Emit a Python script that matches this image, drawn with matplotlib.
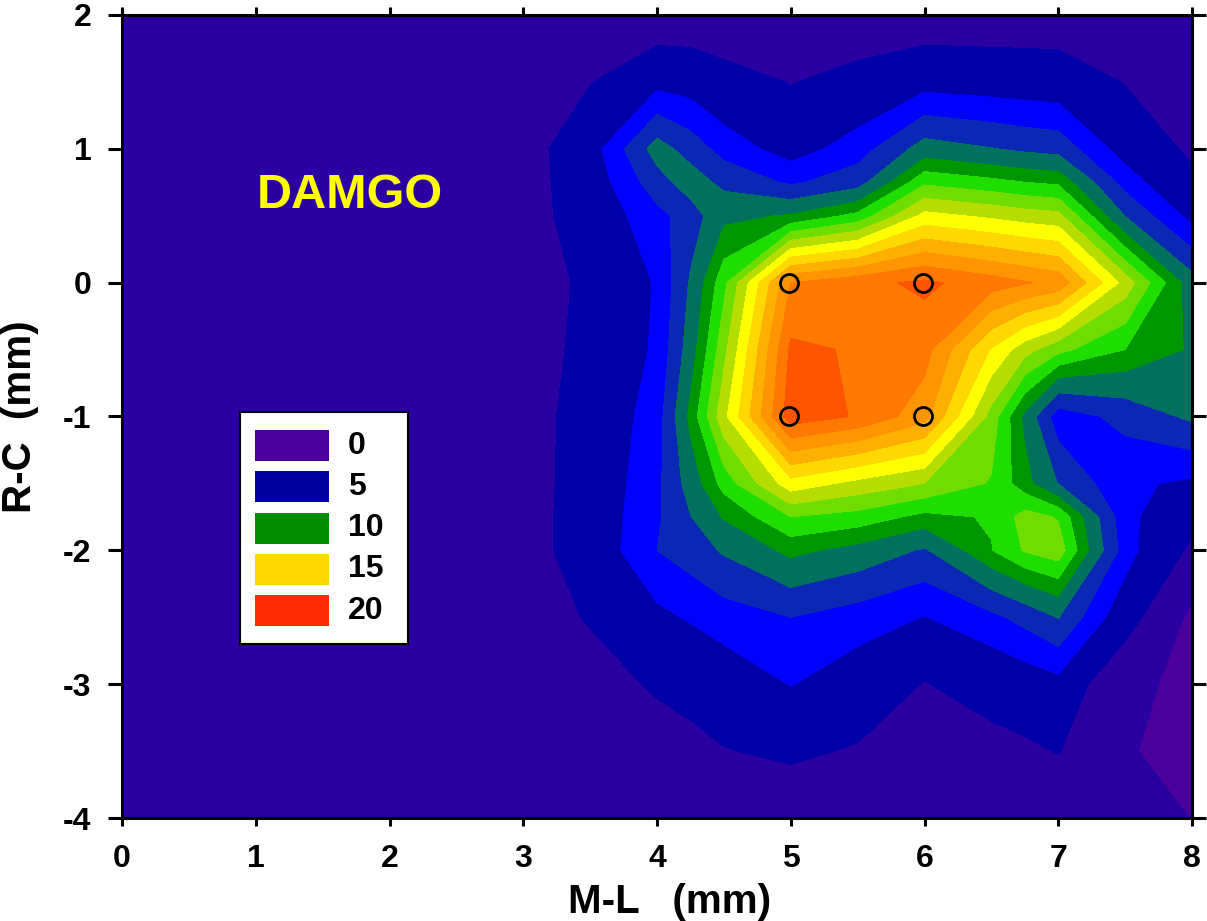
import numpy as np
from matplotlib import pyplot as plt
from matplotlib.patches import Rectangle

plt.rcParams['font.family'] = ['Liberation Sans', 'DejaVu Sans']
plt.rcParams['font.weight'] = 'bold'
plt.rcParams['axes.unicode_minus'] = False

# grille de mesure (mm)
ml = [0, 1, 2, 3, 3.5, 4, 4.25, 4.5, 5, 5.5, 6, 6.5, 6.75, 7, 7.5, 8]
rc = [2, 1.5, 1, 0.75, 0.5, 0, -0.5, -1, -1.5, -1.75, -2, -2.5, -3, -3.5, -4]

# une ligne par valeur de R-C
row_p20 = [2, 2, 2, 2, 2.5, 2.5, 2.5, 2.2, 2, 2.3, 2.6, 2.6, 2.6, 2.6, 2.2, 2]
row_p15 = [2, 2, 2, 2.5, 3.9, 5.8, 5.6, 4.9, 3.9, 4.8, 5.7, 5.5, 5.4, 5.3, 3.9, 2.8]
row_p10 = [2, 2, 2, 3, 5.6, 9.3, 8.2, 7, 5.6, 6.9, 9.3, 8.8, 8.5, 8.3, 5.6, 3.6]
row_p07 = [2, 2, 2, 3, 5.4, 8.2, 9.4, 8.4, 7.3, 8.2, 11.8, 11.3, 11, 10.8, 7, 4.5]
row_p05 = [2, 2, 2, 3, 5.2, 7.1, 8.1, 9.7, 10.1, 11.3, 14.3, 13.8, 13.5, 13.3, 8.7, 5.8]
row_000 = [2, 2, 2, 3, 4.4, 6.4, 8.9, 11.7, 18, 18.7, 19.2, 18.5, 18.1, 17.7, 13.6, 9.3]
row_m05 = [2, 2, 2, 3, 4.6, 6.5, 9.4, 12.7, 19.2, 18.9, 18.4, 14.9, 13.4, 12.3, 11, 9.85]
row_m10 = [2, 2, 2, 3, 5, 6.9, 10.3, 13.7, 19.6, 18.9, 17.4, 12.6, 9.7, 6.8, 7.9, 9]
row_m15 = [2, 2, 2, 3, 5.1, 7.2, 9.3, 11.4, 14.6, 13.7, 13, 11.9, 10.4, 8.7, 6.5, 6]
row_m17 = [2, 2, 2, 3, 5.2, 7.3, 8.7, 10.1, 12, 11.6, 10.7, 11.1, 12.4, 11.9, 6.7, 4.6]
row_m20 = [2, 2, 2, 3, 5.2, 7.5, 8.1, 8.9, 10.3, 9.6, 8.6, 10.95, 12.1, 12.6, 6.9, 3.6]
row_m25 = [2, 2, 2, 2.8, 4.2, 5.9, 6.4, 6.9, 7.5, 6.9, 6.2, 7.2, 7.9, 8.8, 5.2, 0.4]
row_m30 = [2, 2, 2, 2.4, 3, 4.3, 4.7, 5.3, 6.3, 5.4, 3.9, 5, 5.4, 5.8, 1.8, 0.2]
row_m35 = [2, 2, 2, 2, 2.2, 2.9, 3.4, 3.9, 4.4, 3.8, 2.6, 3.2, 3.6, 4.1, 1.2, 0.2]
row_m40 = [2, 2, 2, 2, 2, 2, 2, 2, 2.4, 2, 2, 2, 2, 2, 2, 0.95]

niveaux = [0, 1, 4, 6.25, 7.5, 8.75, 10, 11, 12, 13, 14, 15, 16, 17, 18, 19, 20, 21]
couleurs = ['#4B009B', '#2A00A3', '#0000A8', '#0000FF', '#0A28B4', '#00705F',
            '#009600', '#20DD00', '#70DD00', '#B5DD00', '#FFFF00', '#FFD800',
            '#FFAF00', '#FF9500', '#FF7800', '#FF5500', '#FF2A00']

# points d'injection
pts_x = [4.99, 5.99, 4.99, 5.99]
pts_y = [0, 0, -1, -1]

legende_val = ['0', '5', '10', '15', '20']
legende_coul = ['#4B009B', '#0000A0', '#008C00', '#FFD800', '#FF2A00']

z = np.array([row_p20, row_p15, row_p10, row_p07, row_p05, row_000, row_m05,
              row_m10, row_m15, row_m17, row_m20, row_m25, row_m30, row_m35, row_m40])

fig = plt.figure(figsize=(12.07, 9.21), dpi=100)
ax = fig.add_axes([122 / 1207, 1 - 818 / 921, 1070 / 1207, 803 / 921])

ax.contourf(ml, rc, z, levels=niveaux, colors=couleurs)
ax.plot(pts_x, pts_y, 'o', ms=13, mfc='none', mec='black', mew=2)

ax.set_xlim(0, 8)
ax.set_ylim(-4, 2)
ax.set_xticks(range(0, 9))
ax.set_yticks(range(-4, 3))
ax.tick_params(axis='x', which='both', top=True, direction='out', length=6, width=2.2, labelsize=23, pad=13)
ax.tick_params(axis='y', which='both', right=True, direction='out', length=10, width=2.2, labelsize=23, pad=12)
for s in ax.spines.values():
    s.set_linewidth(2.2)
    s.set_zorder(10)

ax.set_xlabel('M-L   (mm)', fontsize=29, fontweight='bold')
ax.xaxis.set_label_coords(0.512, -0.081)
ax.set_ylabel('R-C  (mm)', fontsize=29, fontweight='bold')
ax.yaxis.set_label_coords(-0.078, 0.5)

ax.text(1.70, 0.655, 'DAMGO', color='#FFFF00', fontsize=35, fontweight='bold', ha='center', va='center')


# legende dessinee en pixels de la figure
def px(x, y):
    return (x / 1207, 1 - y / 921)


bx, by = px(240, 644)
fig.add_artist(Rectangle((bx, by), 168 / 1207, 232 / 921, transform=fig.transFigure,
                         fc='white', ec='black', lw=1.5, zorder=5))
for i in range(len(legende_val)):
    haut = 430 + i * 41.3
    sx, sy = px(255, haut + 31)
    fig.add_artist(Rectangle((sx, sy), 74 / 1207, 31 / 921, transform=fig.transFigure,
                             fc=legende_coul[i], ec='none', zorder=6))
    tx, ty = px(348, haut + 15.5)
    fig.text(tx, ty, legende_val[i], fontsize=23, fontweight='bold', va='center', zorder=7)

plt.savefig('out.png', dpi=100)
